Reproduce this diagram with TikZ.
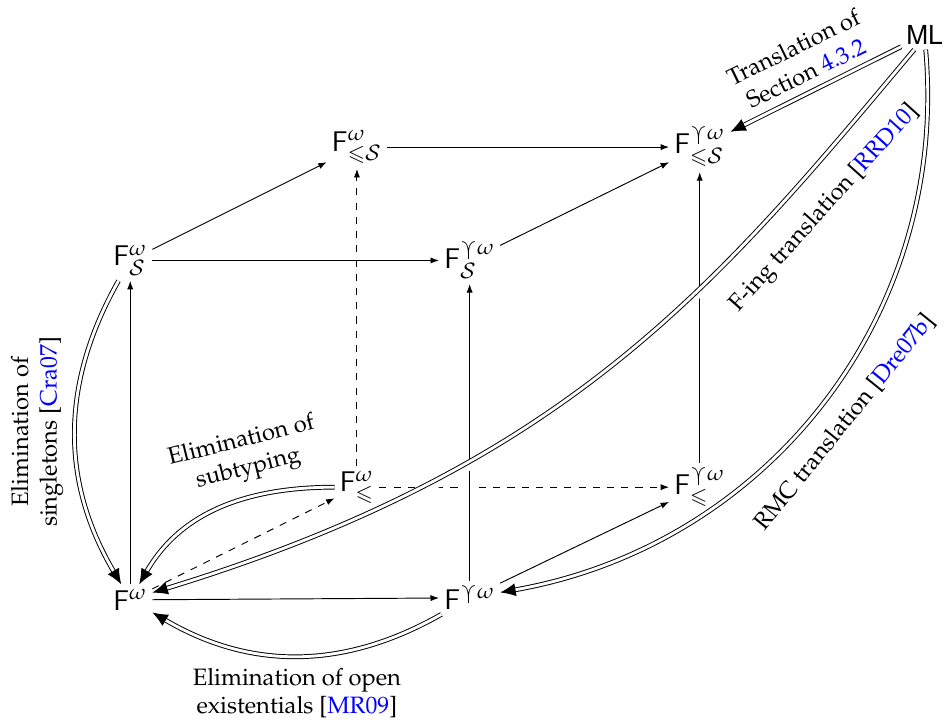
\documentclass[tikz,border=0pt]{standalone}
\usepackage[T1]{fontenc}
\usepackage{mathpazo}
\usepackage[scaled=0.92]{helvet}
\usepackage{amsmath}
\usepackage{amssymb}
\usetikzlibrary{arrows.meta,positioning}

\newcommand{\yarrinner}[2]{\ooalign{$#1\curlyvee$\cr\hidewidth\rule[-0.35ex]{0.45pt}{0.6ex}\hidewidth\cr}}
\newcommand{\yarr}{\mathord{\mathpalette\yarrinner\relax}}
\newcommand{\lien}[1]{\textcolor{blue}{#1}}

\begin{document}
\begin{tikzpicture}[
    >={Latex[length=3.6pt,width=2.6pt]},
    sys/.style={
        inner sep=2pt,
        font=\large
    },
    fleche/.style={
        ->,
        line width=0.4pt
    },
    tiret/.style={
        fleche,
        dashed
    },
    trad/.style={
        double,
        double distance=1.2pt,
        line width=0.4pt,
        -{Latex[length=6.5pt,width=5.5pt]}
    },
    croise/.style={
        preaction={draw=white, line width=3.5pt, -, shorten <=25pt, shorten >=25pt}
    },
    comment/.style={
        align=center,
        inner sep=1pt
    }
]
\useasboundingbox (0,0) rectangle (13.99,10.76);

% Front face
\node[sys] (Fw) at (1.93,1.87) {$\mathsf{F}^{\omega}$};
\node[sys] (Fyw) at (6.96,1.90) {$\mathsf{F}^{\yarr\omega}$};
\node[sys] (FS) at (1.93,6.90) {$\mathsf{F}^{\omega}_{\mathcal{S}}$};
\node[sys] (FyS) at (6.96,6.90) {$\mathsf{F}^{\yarr\omega}_{\mathcal{S}}$};

% Back face
\node[sys] (Fle) at (5.29,3.54) {$\mathsf{F}^{\omega}_{\leqslant}$};
\node[sys] (Fyle) at (10.37,3.54) {$\mathsf{F}^{\yarr\omega}_{\leqslant}$};
\node[sys] (FleS) at (5.29,8.58) {$\mathsf{F}^{\omega}_{\leqslant\mathcal{S}}$};
\node[sys] (FyleS) at (10.37,8.58) {$\mathsf{F}^{\yarr\omega}_{\leqslant\mathcal{S}}$};

% Source language
\node[sys] (ML) at (13.70,10.24) {\textsf{ML}};

% Cube edges
\draw[fleche] (Fw) -- (Fyw);
\draw[fleche] (Fw) -- (FS);
\draw[tiret] (Fw) -- (Fle);
\draw[fleche] (FS) -- (FyS);
\draw[fleche] (FS) -- (FleS);
\draw[fleche] (FleS) -- (FyleS);
\draw[fleche] (FyS) -- (FyleS);
\draw[tiret] (Fle) -- (FleS);
\draw[tiret] (Fle) -- (Fyle);
\draw[fleche] (Fyw) -- (Fyle);
\draw[fleche] (Fyle) -- (FyleS);
\draw[fleche, croise] (Fyw) -- (FyS);

% Translations from ML
\draw[trad, croise] (ML.235) .. controls +(230:4.5) and +(17:6.5) .. (Fw.18);
\draw[trad] (ML) -- (FyleS);
\draw[trad] (ML) to[out=-85, in=10] (Fyw);

% Eliminations
\draw[trad] (FS) to[bend right=30] (Fw);
\draw[trad] (Fle) to[out=180, in=60] (Fw);
\draw[trad] (Fyw) to[bend left=30] (Fw);

% Labels
\node[comment, rotate=90] (lsing) at (0.55,4.36)
{Elimination of\\ singletons [\lien{Cra07}]};
\node[comment, rotate=14] (lsub) at (3.63,4.01)
{Elimination of\\ subtyping};
\node[comment] (lopen) at (4.40,0.49)
{Elimination of open\\ existentials [\lien{MR09}]};
\node[comment, rotate=26] (lsec) at (11.85,9.87)
{Translation of\\ Section \lien{4.3.2}};
\node[comment, rotate=48] (lfing) at (12.22,7.67)
{F-ing translation [\lien{RRD10}]};
\node[comment, rotate=51] (lrmc) at (12.52,4.50)
{RMC translation [\lien{Dre07b}]};

\end{tikzpicture}
\end{document}
